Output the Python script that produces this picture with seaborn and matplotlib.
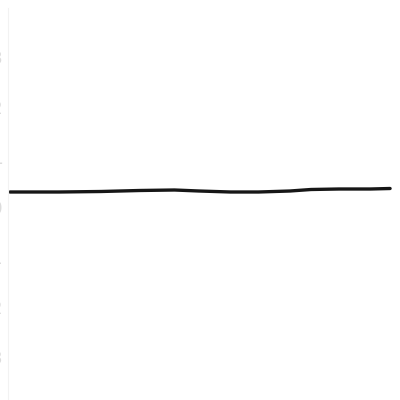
import matplotlib
matplotlib.use('Agg')
import matplotlib.pyplot as plt
import pandas as pd
import seaborn as sns

# 数据：从图上估读
x_vals = [0, 14, 26, 37, 47, 54, 63, 71, 80, 86, 94, 103, 108.6]
y_vals = [0.30, 0.30, 0.31, 0.33, 0.34, 0.32, 0.30, 0.30, 0.32, 0.35, 0.36, 0.36, 0.37]
x_ticks = [0, 25, 50, 75, 100]
y_ticks = [-3, -2, -1, 0, 1, 2, 3]

sns.set_style('white')

df = pd.DataFrame({'x': x_vals, 'y': y_vals})

fig = plt.figure(figsize=(4, 4), dpi=100)
ax = fig.add_axes([8 / 400, 0, 392 / 400, 392 / 400])
sns.lineplot(x='x', y='y', data=df, ax=ax, color='#161616', linewidth=2.4)

ax.set_xlim(-0.57, 111.43)
ax.set_ylim(-3.86, 3.98)
ax.set_xticks(x_ticks)
ax.set_yticks(y_ticks)
ax.xaxis.tick_top()
ax.tick_params(axis='x', length=0, pad=4, labelsize=12, colors='#dcdcdc')
ax.tick_params(axis='y', length=0, pad=4, labelsize=12, colors='#dcdcdc')
ax.set_xlabel('')
ax.set_ylabel('')
for side in ['top', 'right', 'bottom']:
    ax.spines[side].set_visible(False)
ax.spines['left'].set_color('#f2f2f2')

fig.savefig('out.png', dpi=100)
